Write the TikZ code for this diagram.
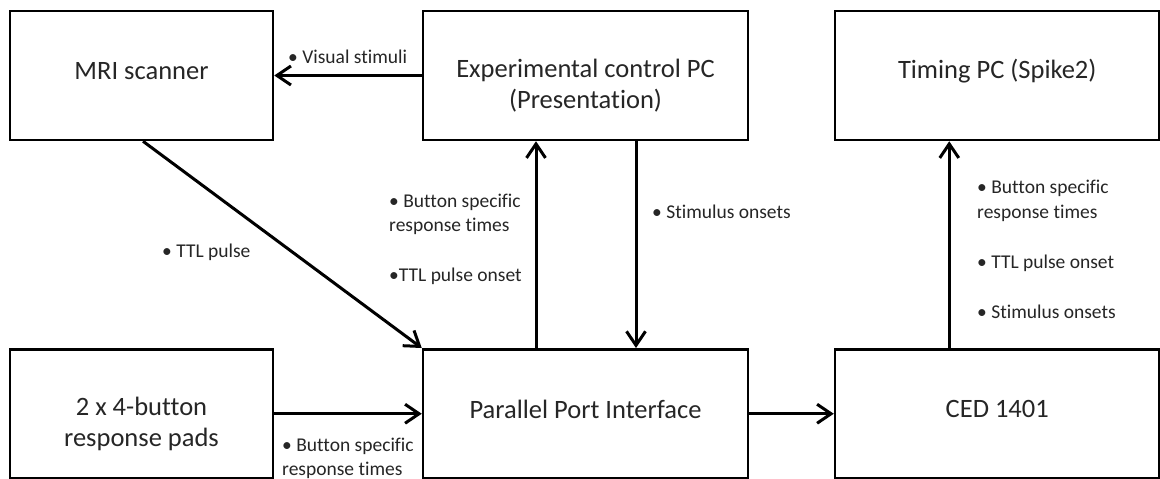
\documentclass[tikz,border=0pt]{standalone}
\usepackage{fontspec}
\setmainfont[Ligatures=NoCommon]{Carlito}
\usetikzlibrary{arrows.meta}

\tikzset{
  box/.style={draw=black, line width=2.5pt, minimum width=#1, minimum height=129pt,
              inner sep=0pt, fill=white},
  box/.default=263pt,
  boxtext/.style={font=\fontsize{26.5}{31}\selectfont, text=black!85, inner sep=0pt, align=center},
  lbl/.style={font=\fontsize{19.5}{24.5}\selectfont, text=black!85, inner sep=0pt, align=left, anchor=west},
  arr/.style={line width=3pt, -{Straight Barb[length=14pt, width=19pt, line width=3pt]}}
}

\begin{document}
\begin{tikzpicture}[x=1pt, y=-1pt]
  \useasboundingbox (0,0) rectangle (1160,479);
  \fill[white] (0,0) rectangle (1160,479);

  % top row
  \node[box] (mri) at (141.5,75.5) {};
  \node[box=325pt] (exp) at (585.5,75.5) {};
  \node[box=324.5pt] (tim) at (997.25,75.5) {};
  % bottom row
  \node[box] (pads) at (141.5,413.75) {};
  \node[box=325pt] (ppi) at (585.5,413.75) {};
  \node[box=324.5pt] (ced) at (997.25,413.75) {};

  % box captions
  \node[boxtext] (mriT) at (141.5,71) {MRI scanner};
  \node[boxtext] (expT) at (585.5,86) {Experimental control PC\\(Presentation)};
  \node[boxtext] (timT) at (997.25,71) {Timing PC (Spike2)};
  \node[boxtext] (padsT) at (141.5,424) {2 x 4-button\\response pads};
  \node[boxtext] (ppiT) at (585.5,409) {Parallel Port Interface};
  \node[boxtext] (cedT) at (997.25,409) {CED 1401};

  % connectors
  \draw[arr] (exp.west) -- (mri.east);
  \draw[arr] ([xshift=1.5pt]mri.south) -- (ppi.north west);
  \draw[arr] (pads.east) -- (ppi.west);
  \draw[arr] ([xshift=-49.5pt]ppi.north) -- ([xshift=-49.5pt]exp.south);
  \draw[arr] ([xshift=50.5pt]exp.south) -- ([xshift=50.5pt]ppi.north);
  \draw[arr] (ppi.east) -- (ced.west);
  \draw[arr] ([xshift=-48pt]ced.north) -- ([xshift=-48pt]tim.south);

  % signal labels
  \node[lbl] (lVis) at (288,57) {• Visual stimuli};
  \node[lbl] (lTTL) at (162,252) {• TTL pulse};
  \node[lbl] (lBtnA) at (389,214.5) {• Button specific\\response times};
  \node[lbl] (lTTLA) at (389,276) {•TTL pulse onset};
  \node[lbl] (lStim) at (652,212) {• Stimulus onsets};
  \node[lbl] (lBtnB) at (977,201) {• Button specific\\response times};
  \node[lbl] (lTTLB) at (977,263) {• TTL pulse onset};
  \node[lbl] (lStimB) at (977,312) {• Stimulus onsets};
  \node[lbl] (lBtnC) at (282,458.5) {• Button specific\\response times};
\end{tikzpicture}
\end{document}
